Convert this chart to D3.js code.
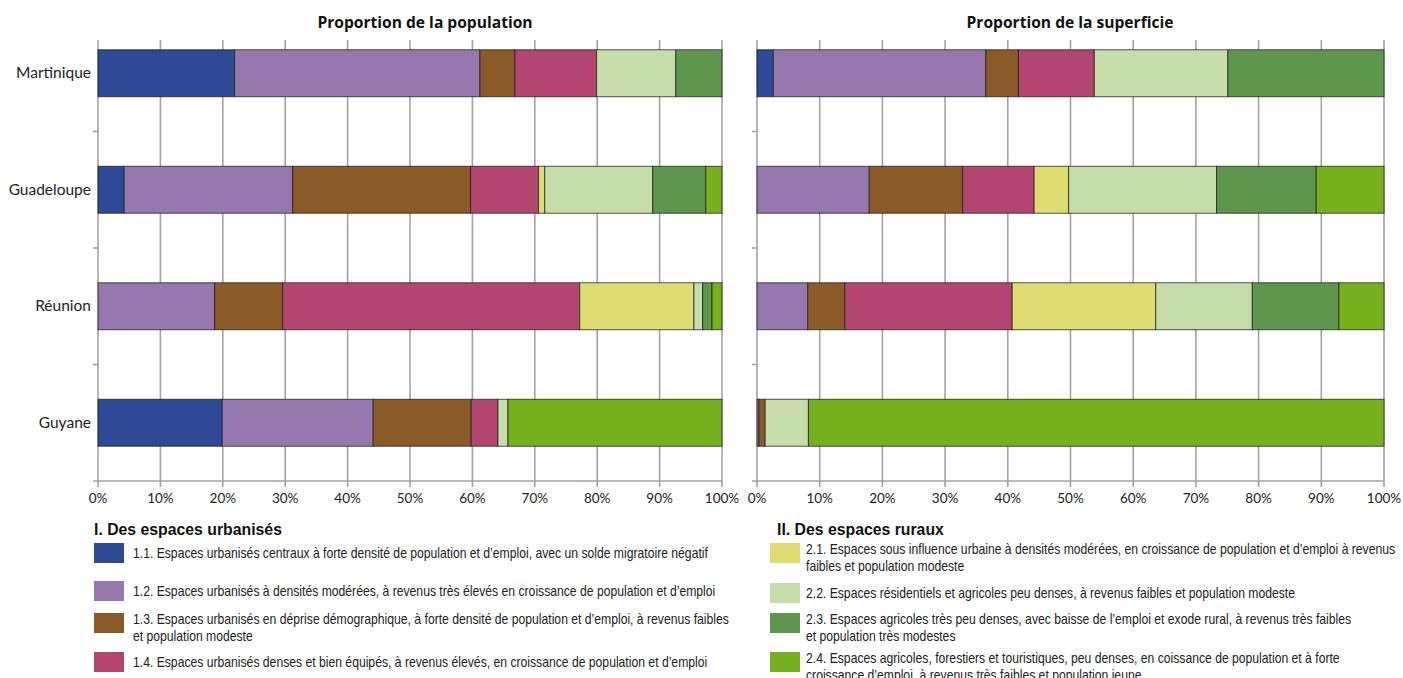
<!DOCTYPE html>
<html>
<head>
<meta charset="utf-8">
<script src="https://cdn.jsdelivr.net/npm/d3@7"></script>
<style>
  body { margin: 0; background: #fff; }
  svg { display: block; }
</style>
</head>
<body>
<svg id="chart" width="1403" height="678"></svg>
<script>
// territories (rows), classes (stack order), tick values
const territories = ['Martinique', 'Guadeloupe', 'Réunion', 'Guyane']
const classes = ['1.1', '1.2', '1.3', '1.4', '2.1', '2.2', '2.3', '2.4']
const ticks = [0, 10, 20, 30, 40, 50, 60, 70, 80, 90, 100]

// shares of population (%) per territory, in class order
const popMartinique = [21.9, 39.3, 5.6, 13.1, 0, 12.7, 7.4, 0]
const popGuadeloupe = [4.2, 27.0, 28.5, 10.9, 1.0, 17.3, 8.5, 2.6]
const popReunion = [0, 18.7, 10.9, 47.6, 18.3, 1.4, 1.5, 1.6]
const popGuyane = [19.9, 24.2, 15.7, 4.3, 0, 1.6, 0, 34.3]

// shares of area (%) per territory
const supMartinique = [2.6, 33.9, 5.2, 12.1, 0, 21.3, 24.9, 0]
const supGuadeloupe = [0, 17.9, 14.9, 11.4, 5.5, 23.6, 15.9, 10.8]
const supReunion = [0, 8.1, 5.9, 26.7, 22.9, 15.4, 13.8, 7.2]
const supGuyane = [0, 0.3, 1.0, 0, 0, 6.9, 0, 91.8]

const colors = ['#2e4a96', '#9678ae', '#8a5a28', '#b24670', '#e0dc74', '#c6ddaa', '#5e964e', '#76b01e']

const urbanTitle = 'I. Des espaces urbanisés'
const ruralTitle = 'II. Des espaces ruraux'
const urbanLabels = [
  ['1.1. Espaces urbanisés centraux à forte densité de population et d\u2019emploi, avec un solde migratoire négatif'],
  ['1.2. Espaces urbanisés à densités modérées, à revenus très élevés en croissance de population et d\u2019emploi'],
  ['1.3. Espaces urbanisés en déprise démographique, à forte densité de population et d\u2019emploi, à revenus faibles', 'et population modeste'],
  ['1.4. Espaces urbanisés denses et bien équipés, à revenus élevés, en croissance de population et d\u2019emploi']
]
const ruralLabels = [
  ['2.1. Espaces sous influence urbaine à densités modérées, en croissance de population et d\u2019emploi à revenus', 'faibles et population modeste'],
  ['2.2. Espaces résidentiels et agricoles peu denses, à revenus faibles et population modeste'],
  ['2.3. Espaces agricoles très peu denses, avec baisse de l\u2019emploi et exode rural, à revenus très faibles', 'et population très modestes'],
  ['2.4. Espaces agricoles, forestiers et touristiques, peu denses, en coissance de population et à forte', 'croissance d\u2019emploi, à revenus très faibles et population jeune']
]

const svg = d3.select('#chart')
const gridColor = '#a3a3a3'
const plotTop = 40
const plotBottom = 481

function toRows(arrays) {
  return territories.map((t, i) => {
    let row = { territory: t }
    classes.forEach((c, j) => { row[c] = arrays[i][j] })
    return row
  })
}

function drawPanel(title, titleX, rows, x0, x1) {
  let x = d3.scaleLinear().domain([0, 100]).range([x0, x1])
  // the first band starts above the visible plot area, as in the original
  let y = d3.scaleBand().domain(territories).range([15, plotBottom]).paddingInner(0.597).paddingOuter(0.2985)
  let step = y.step()

  let g = svg.append('g')

  // vertical gridlines with ticks under the axis
  g.selectAll('line.grid')
    .data(ticks)
    .enter().append('line')
    .attr('x1', d => x(d)).attr('x2', d => x(d))
    .attr('y1', plotTop).attr('y2', plotBottom + 6)
    .attr('stroke', gridColor)
    .attr('stroke-width', 1.6)

  // bottom axis line
  g.append('line')
    .attr('x1', x0 - 5).attr('x2', x1)
    .attr('y1', plotBottom).attr('y2', plotBottom)
    .attr('stroke', gridColor).attr('stroke-width', 1.6)

  // category separators on the left axis
  g.selectAll('line.sep')
    .data(d3.range(1, territories.length))
    .enter().append('line')
    .attr('x1', x0 - 5).attr('x2', x0)
    .attr('y1', i => 15 + step * i).attr('y2', i => 15 + step * i)
    .attr('stroke', gridColor).attr('stroke-width', 1.6)

  let series = d3.stack().keys(classes)(rows)
  g.selectAll('g.series')
    .data(series)
    .enter().append('g')
    .attr('fill', (d, i) => colors[i])
    .selectAll('rect')
    .data(d => d.filter(s => s[1] - s[0] > 0))
    .enter().append('rect')
    .attr('x', d => x(d[0]))
    .attr('y', d => y(d.data.territory))
    .attr('width', d => x(d[1]) - x(d[0]))
    .attr('height', y.bandwidth())
    .attr('stroke', 'rgba(30,30,30,0.75)')
    .attr('stroke-width', 1)

  g.selectAll('text.tick')
    .data(ticks)
    .enter().append('text')
    .attr('x', d => x(d))
    .attr('y', 503)
    .attr('text-anchor', 'middle')
    .attr('font-family', 'Lato, "Open Sans", sans-serif')
    .attr('font-size', 13.5)
    .attr('fill', '#222')
    .text(d => d + '%')

  g.append('text')
    .attr('x', titleX)
    .attr('y', 28)
    .attr('text-anchor', 'middle')
    .attr('font-family', '"Open Sans", Lato, sans-serif')
    .attr('font-weight', 'bold')
    .attr('font-size', 15.6)
    .attr('fill', '#111')
    .text(title)

  return y
}

let yLeft = drawPanel('Proportion de la population', 425, toRows([popMartinique, popGuadeloupe, popReunion, popGuyane]), 98, 722)
drawPanel('Proportion de la superficie', 1070, toRows([supMartinique, supGuadeloupe, supReunion, supGuyane]), 757, 1384)

svg.append('g').selectAll('text')
  .data(territories)
  .enter().append('text')
  .attr('x', 91)
  .attr('y', d => yLeft(d) + yLeft.bandwidth() / 2 + 5)
  .attr('text-anchor', 'end')
  .attr('font-family', 'Lato, "Open Sans", sans-serif')
  .attr('font-size', 15.5)
  .attr('fill', '#222')
  .text(d => d)

// legend: narrow text, drawn with a horizontal squeeze
const legendFont = '"Liberation Sans", Arial, sans-serif'
const squeeze = 0.84
const boxTops = [[543, 581, 613, 652], [543, 583, 613, 652]]

function drawLegend(title, labels, colorOffset, bx, titleX, tx, tops) {
  let g = svg.append('g')
  g.append('text')
    .attr('x', titleX).attr('y', 535)
    .attr('font-family', legendFont)
    .attr('font-weight', 'bold')
    .attr('font-size', 15.8)
    .attr('fill', '#111')
    .text(title)

  labels.forEach((lines, i) => {
    g.append('rect')
      .attr('x', bx).attr('y', tops[i])
      .attr('width', 30).attr('height', 20)
      .attr('fill', colors[colorOffset + i])
    let ty = lines.length > 1 ? tops[i] + 11 : tops[i] + 14.5
    g.selectAll(null)
      .data(lines)
      .enter().append('text')
      .attr('transform', (d, k) => `translate(${tx},${ty + k * 16.5}) scale(${squeeze},1)`)
      .attr('font-family', legendFont)
      .attr('font-size', 14.5)
      .attr('fill', '#222')
      .text(d => d)
  })
}

drawLegend(urbanTitle, urbanLabels, 0, 94, 94, 133, boxTops[0])
drawLegend(ruralTitle, ruralLabels, 4, 770, 777, 806, boxTops[1])
</script>
</body>
</html>
